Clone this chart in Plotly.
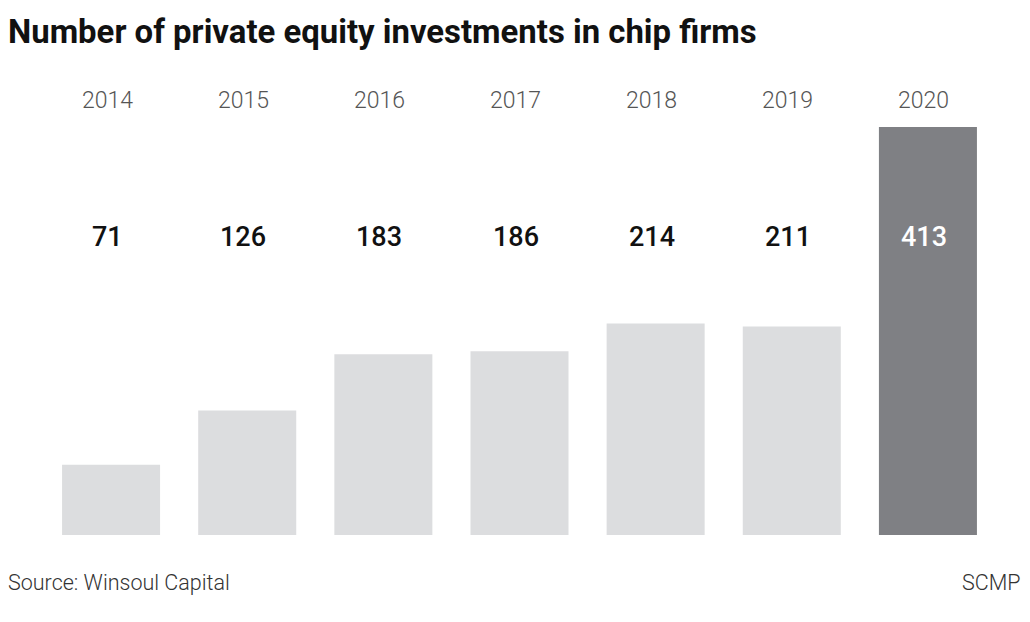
import plotly.graph_objects as go

years = ["2014", "2015", "2016", "2017", "2018", "2019", "2020"]
values = [71, 126, 183, 186, 214, 211, 413]
bar_colors = ["#dcdddf"] * 6 + ["#7f8084"]
value_colors = ["#111111"] * 6 + ["#ffffff"]

# page body has an 8px margin; figure coordinates are reference pixels minus 8
OFF = 8
W, H = 1014, 606
L, R, T, B = 35, 26, 72, 79
plot_w = W - L - R
plot_h = H - T - B
y_max = plot_h / 0.988
base = 535 - OFF  # bar baseline in figure pixels

fig = go.Figure()
fig.add_trace(go.Bar(
    x=years, y=values, marker=dict(color=bar_colors, line=dict(width=0)),
    hoverinfo="skip",
))

annotations = []
for i, (yr, v, c) in enumerate(zip(years, values, value_colors)):
    annotations.append(dict(
        x=i, xref="x", xshift=-4, y=(base - (237 - OFF)) / plot_h, yref="paper",
        text=str(v), showarrow=False, xanchor="center", yanchor="middle",
        font=dict(family="Roboto", size=27, color=c, weight=500),
    ))
    annotations.append(dict(
        x=i, xref="x", xshift=-4, y=(base - (101 - OFF)) / plot_h, yref="paper",
        text=yr, showarrow=False, xanchor="center", yanchor="middle",
        font=dict(family="Roboto", size=23, color="#555555", weight=300),
    ))

annotations.append(dict(
    x=(0 - L) / plot_w, xref="paper", xshift=-2, y=(base - (582 - OFF)) / plot_h, yref="paper",
    text="Source: Winsoul Capital", showarrow=False, xanchor="left", yanchor="middle",
    font=dict(family="Roboto", size=21.5, color="#333333", weight=300),
))
annotations.append(dict(
    x=(1023 - OFF - L) / plot_w, xref="paper", y=(base - (582 - OFF)) / plot_h, yref="paper",
    text="SCMP", showarrow=False, xanchor="right", yanchor="middle",
    font=dict(family="Roboto", size=21.5, color="#333333", weight=300),
))

fig.update_layout(
    width=W, height=H,
    margin=dict(l=L, r=R, t=T, b=B),
    paper_bgcolor="white", plot_bgcolor="white",
    bargap=0.28,
    showlegend=False,
    title=dict(
        text="<b>Number of private equity investments in chip firms</b>",
        xref="container", x=0, xanchor="left",
        yref="container", y=1 - (31 - OFF) / H, yanchor="middle",
        font=dict(family="Roboto", size=32.9, color="#111111"),
    ),
    xaxis=dict(visible=False, type="category", range=[-0.5, 6.5]),
    yaxis=dict(visible=False, range=[0, y_max]),
    annotations=annotations,
)

fig.write_html("out.html")
